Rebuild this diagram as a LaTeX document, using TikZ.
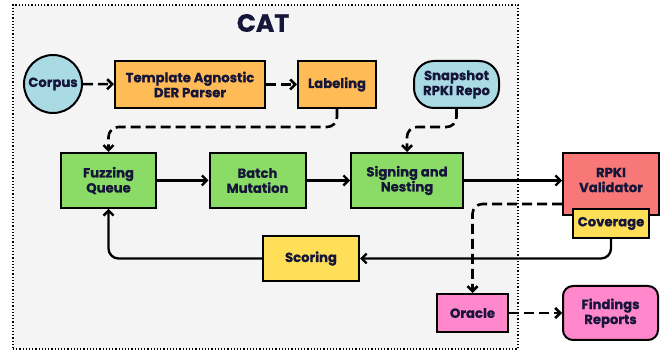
\documentclass[tikz,border=0pt]{standalone}
\usepackage{fontspec}
\setmainfont{Poppins}[BoldFeatures={FakeBold=0.8}]
\definecolor{ink}{RGB}{22, 22, 58}
\definecolor{panel}{RGB}{244, 244, 244}
\definecolor{parse}{RGB}{255, 187, 85}
\definecolor{fuzz}{RGB}{138, 220, 102}
\definecolor{source}{RGB}{170, 218, 228}
\definecolor{check}{RGB}{248, 120, 120}
\definecolor{score}{RGB}{255, 222, 88}
\definecolor{oracle}{RGB}{255, 136, 204}
\usetikzlibrary{calc,shapes,positioning,arrows.meta}

\begin{document}
\begin{tikzpicture}[x=1pt, y=-1pt,
    box/.style={draw=black, line width=2pt, text=ink, align=center, inner sep=0pt,
        font=\bfseries\fontsize{13.2}{15}\selectfont},
    flow/.style={line width=2.3pt, rounded corners=10pt, -{Straight Barb[length=5pt, width=10pt]}},
    dashflow/.style={flow, line width=2.6pt, dash pattern=on 10pt off 5pt}]
                \useasboundingbox (0,0) rectangle (664,352);
                \node[draw=black, dotted, line width=1.2pt, fill=panel, minimum width=505pt, minimum height=344pt] (catbox) at (265.5,177) {};
                \node[text=ink, font=\bfseries\fontsize{25}{27}\selectfont] (cattitle) at (263,23) {CAT};

                \node[box, circle, fill=source, minimum size=58pt] (corpus) at (53,84) {Corpus};
                \node[box, fill=parse, minimum width=150pt, minimum height=47pt] (parser) at (190,84.5) {Template Agnostic\\DER Parser};
                \node[box, fill=parse, minimum width=78pt, minimum height=47pt] (labeling) at (337,84.5) {Labeling};
                \node[box, fill=source, rounded corners=20pt, minimum width=85pt, minimum height=47pt] (snapshot) at (456.5,84.5) {Snapshot\\RPKI Repo};

                \node[box, fill=fuzz, minimum width=95pt, minimum height=55pt] (queue) at (108.5,180.5) {Fuzzing\\Queue};
                \node[box, fill=fuzz, minimum width=96pt, minimum height=55pt] (mutation) at (257.5,180.5) {Batch\\Mutation};
                \node[box, fill=fuzz, minimum width=112pt, minimum height=55pt] (signing) at (407,180.5) {Signing and\\Nesting};
                \node[box, fill=check, minimum width=96pt, minimum height=62pt, text depth=8pt] (validator) at (611,184) {RPKI\\Validator};
                \node[box, fill=score, minimum width=76pt, minimum height=29pt] (coverage) at (611,223.5) {Coverage};
                \node[box, fill=score, minimum width=96pt, minimum height=45pt] (scoring) at (311,258.5) {Scoring};
                \node[box, fill=oracle, minimum width=71pt, minimum height=38pt] (oracle) at (472.5,313) {Oracle};
                \node[box, fill=oracle, rounded corners=10pt, minimum width=95pt, minimum height=54pt] (findings) at (610.5,313) {Findings\\Reports};

                \draw[dashflow] (corpus) -- (parser);
                \draw[dashflow] (parser) -- (labeling);
                \draw[dashflow] (labeling.south) -- ++(0,18) -| (queue.north);
                \draw[dashflow] (snapshot.south) -- ++(0,18) -| (signing.north);
                \draw[flow] (queue) -- (mutation);
                \draw[flow] (mutation) -- (signing);
                \draw[flow] (signing.east) -- (signing.east -| validator.west);
                \draw[dashflow] ($(validator.south west)+(0,-12)$) -| (oracle.north);
                \draw[flow] (coverage.south) |- (scoring.east);
                \draw[flow] (scoring.west) -| (queue.south);
                \draw[dashflow] (oracle) -- (findings);
            \end{tikzpicture}
\end{document}
